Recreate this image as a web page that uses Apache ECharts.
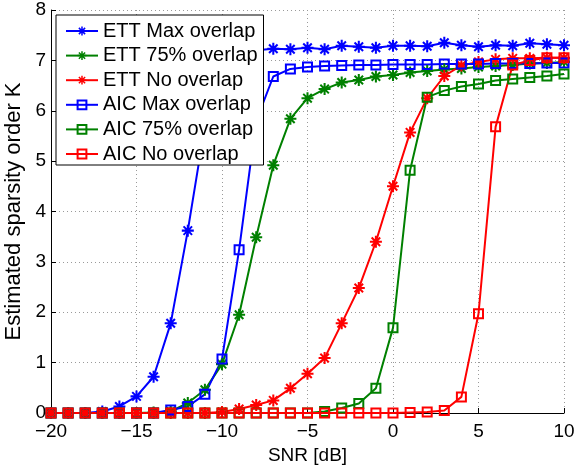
<!DOCTYPE html>
<html>
<head>
<meta charset="utf-8">
<script src="https://cdn.jsdelivr.net/npm/echarts@6/dist/echarts.min.js"></script>
<style>
html,body{margin:0;padding:0;background:#fff;}
#chart{width:575px;height:465px;}
</style>
</head>
<body>
<div id="chart"></div>
<script>
// SNR values [dB]
var snr = [-20,-19,-18,-17,-16,-15,-14,-13,-12,-11,-10,-9,-8,-7,-6,-5,-4,-3,-2,-1,0,1,2,3,4,5,6,7,8,9,10];

var ettMax = [0,0,0,0.03,0.13,0.33,0.72,1.78,3.62,5.7,6.8,7.1,7.2,7.23,7.22,7.25,7.22,7.29,7.27,7.25,7.29,7.29,7.28,7.35,7.30,7.27,7.30,7.29,7.34,7.32,7.30];
var ett75  = [0,0,0,0,0,0,0.01,0.03,0.2,0.46,0.97,1.95,3.49,4.92,5.84,6.25,6.43,6.56,6.61,6.68,6.71,6.76,6.79,6.82,6.84,6.87,6.89,6.91,6.94,6.95,6.97];
var ettNo  = [0,0,0,0,0,0,0,0,0,0,0.02,0.08,0.16,0.25,0.49,0.78,1.09,1.78,2.48,3.40,4.5,5.57,6.25,6.69,6.9,6.97,7.02,7.04,7.04,7.05,7.05];
var aicMax = [0,0,0,0,0,0,0,0.06,0.13,0.37,1.07,3.24,5.8,6.68,6.83,6.87,6.89,6.9,6.91,6.91,6.92,6.92,6.92,6.93,6.93,6.93,6.94,6.94,6.94,6.95,6.95];
var aic75  = [0,0,0,0,0,0,0,0,0,0,0,0,0,0,0,0,0.03,0.1,0.19,0.49,1.69,4.82,6.27,6.40,6.48,6.53,6.6,6.63,6.66,6.69,6.73];
var aicNo  = [0,0,0,0,0,0,0,0,0,0,0,0,0,0,0,0,0,0,0,0,0,0.01,0.02,0.05,0.32,1.97,5.68,6.91,7.0,7.05,7.05];

var seriesNames = ['ETT Max overlap','ETT 75% overlap','ETT No overlap','AIC Max overlap','AIC 75% overlap','AIC No overlap'];
var xTickLabels = {'-20':'\u221220','-15':'\u221215','-10':'\u221210','-5':'\u22125','0':'0','5':'5','10':'10'};
var yTickLabels = ['0','1','2','3','4','5','6','7','8'];

var BLUE = '#0000ff', GREEN = '#008000', RED = '#ff0000';
var FONT = 'Liberation Sans, Arial, Helvetica, sans-serif';

// asterisk marker (4 crossing bars)
var ASTER = 'path://' +
  'M-100,-17L100,-17L100,17L-100,17Z' +
  'M-17,-100L17,-100L17,100L-17,100Z' +
  'M-59,-83L83,59L59,83L-83,-59Z' +
  'M-83,59L59,-83L83,-59L-59,83Z';

function zip(ys){ return snr.map(function(x,i){ return [x, ys[i]]; }); }

function starSeries(name, ys, color){
  return {
    name: name, type: 'line', data: zip(ys),
    symbol: ASTER, symbolSize: 12, symbolKeepAspect: true,
    lineStyle: {color: color, width: 2},
    itemStyle: {color: color},
    emphasis: {disabled: true}, animation: false
  };
}
function squareSeries(name, ys, color){
  return {
    name: name, type: 'line', data: zip(ys),
    symbol: 'rect', symbolSize: 9,
    lineStyle: {color: color, width: 2},
    itemStyle: {color: 'rgba(255,255,255,0)', borderColor: color, borderWidth: 2},
    emphasis: {disabled: true}, animation: false
  };
}

var chart = echarts.init(document.getElementById('chart'), null, {renderer: 'canvas'});
chart.setOption({
  animation: false,
  backgroundColor: '#fff',
  grid: {left: 51, right: 11, top: 10, bottom: 52, containLabel: false, outerBoundsMode: 'none'},
  xAxis: {
    type: 'value', min: -20, max: 10, interval: 5,
    name: 'SNR [dB]', nameLocation: 'middle', nameGap: 30,
    nameTextStyle: {color: '#000', fontSize: 19, fontFamily: FONT},
    axisLine: {show: true, onZero: false, lineStyle: {color: '#000', width: 1}},
    axisTick: {show: true, inside: true, length: 5, lineStyle: {color: '#000'}},
    axisLabel: {color: '#000', fontSize: 19, fontFamily: FONT, margin: 9,
      formatter: function(v){ return xTickLabels[String(v)]; }},
    splitLine: {show: true, lineStyle: {color: '#9a9a9a', width: 1, type: [1, 3]}}
  },
  yAxis: {
    type: 'value', min: 0, max: 8, interval: 1,
    name: 'Estimated sparsity order K', nameLocation: 'middle', nameGap: 24,
    nameTextStyle: {color: '#000', fontSize: 22, fontFamily: FONT},
    axisLine: {show: true, onZero: false, lineStyle: {color: '#000', width: 1}},
    axisTick: {show: true, inside: true, length: 5, lineStyle: {color: '#000'}},
    axisLabel: {color: '#000', fontSize: 19, fontFamily: FONT, margin: 5,
      formatter: function(v){ return yTickLabels[v]; }},
    splitLine: {show: true, lineStyle: {color: '#9a9a9a', width: 1, type: [1, 3]}}
  },
  legend: {
    orient: 'vertical', left: 56, top: 15,
    data: seriesNames,
    backgroundColor: '#fff', borderColor: '#000', borderWidth: 1,
    padding: [6, 6, 1, 9],
    itemWidth: 32, itemHeight: 11, itemGap: 4.6,
    textStyle: {color: '#000', fontSize: 20, fontFamily: FONT, lineHeight: 20},
    selectedMode: false
  },
  series: [
    starSeries(seriesNames[0], ettMax, BLUE),
    starSeries(seriesNames[1], ett75, GREEN),
    starSeries(seriesNames[2], ettNo, RED),
    squareSeries(seriesNames[3], aicMax, BLUE),
    squareSeries(seriesNames[4], aic75, GREEN),
    squareSeries(seriesNames[5], aicNo, RED)
  ]
});
</script>
</body>
</html>
